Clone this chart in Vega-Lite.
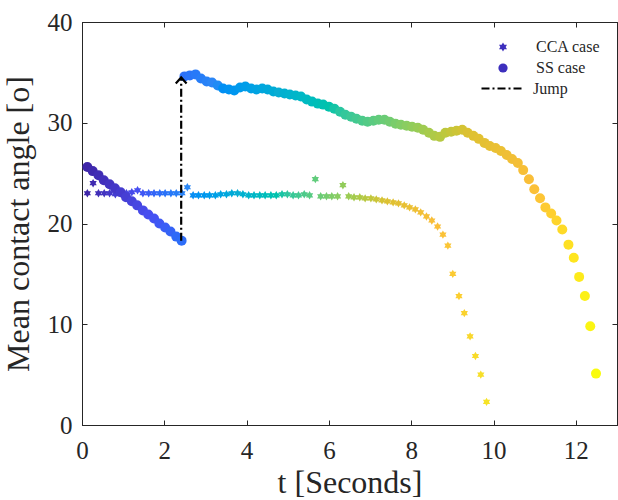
{
  "$schema": "https://vega.github.io/schema/vega-lite/v6.json",
  "width": 535,
  "height": 403,
  "autosize": {"type": "none"},
  "padding": {"left": 82, "top": 22, "right": 1, "bottom": 75},
  "background": "white",
  "config": {
    "view": {"stroke": "#262626", "strokeWidth": 1},
    "legend": {"symbolBaseFillColor": "#3d2fbd", "symbolBaseStrokeColor": "#3d2fbd"},
    "axis": {
      "grid": false,
      "domainColor": "#262626",
      "tickColor": "#262626",
      "labelColor": "#262626",
      "titleColor": "#262626",
      "labelFont": "Liberation Serif",
      "labelFontSize": 25,
      "titleFont": "Liberation Serif",
      "titleFontSize": 32,
      "titleFontWeight": "normal",
      "labelFlush": false,
      "tickSize": -5
    }
  },
  "datasets": {
    "cca": [
      {"t": 0.13, "angle": 23.0}, {"t": 0.27, "angle": 24.0}, {"t": 0.40, "angle": 23.0}, {"t": 0.54, "angle": 23.0},
      {"t": 0.67, "angle": 23.0}, {"t": 0.81, "angle": 22.9}, {"t": 0.94, "angle": 23.0}, {"t": 1.08, "angle": 23.0},
      {"t": 1.21, "angle": 23.1}, {"t": 1.35, "angle": 23.3}, {"t": 1.48, "angle": 23.0}, {"t": 1.62, "angle": 23.0},
      {"t": 1.75, "angle": 23.0}, {"t": 1.89, "angle": 23.0}, {"t": 2.02, "angle": 23.0}, {"t": 2.16, "angle": 23.0},
      {"t": 2.29, "angle": 23.0}, {"t": 2.43, "angle": 23.0}, {"t": 2.56, "angle": 23.6}, {"t": 2.70, "angle": 22.8},
      {"t": 2.83, "angle": 22.8}, {"t": 2.97, "angle": 22.8}, {"t": 3.10, "angle": 22.8}, {"t": 3.24, "angle": 22.8},
      {"t": 3.37, "angle": 22.9}, {"t": 3.51, "angle": 22.9}, {"t": 3.64, "angle": 23.0}, {"t": 3.78, "angle": 23.0},
      {"t": 3.91, "angle": 22.9}, {"t": 4.05, "angle": 22.8}, {"t": 4.18, "angle": 22.8}, {"t": 4.32, "angle": 22.8},
      {"t": 4.45, "angle": 22.8}, {"t": 4.59, "angle": 22.8}, {"t": 4.72, "angle": 22.8}, {"t": 4.86, "angle": 22.9},
      {"t": 4.99, "angle": 22.9}, {"t": 5.13, "angle": 22.8}, {"t": 5.26, "angle": 22.8}, {"t": 5.40, "angle": 22.9},
      {"t": 5.53, "angle": 22.8}, {"t": 5.67, "angle": 24.4}, {"t": 5.80, "angle": 22.7}, {"t": 5.94, "angle": 22.7},
      {"t": 6.07, "angle": 22.7}, {"t": 6.21, "angle": 22.7}, {"t": 6.34, "angle": 23.8}, {"t": 6.48, "angle": 22.7},
      {"t": 6.61, "angle": 22.6}, {"t": 6.75, "angle": 22.6}, {"t": 6.88, "angle": 22.5}, {"t": 7.02, "angle": 22.5},
      {"t": 7.15, "angle": 22.4}, {"t": 7.29, "angle": 22.3}, {"t": 7.42, "angle": 22.2}, {"t": 7.56, "angle": 22.1},
      {"t": 7.69, "angle": 22.0}, {"t": 7.83, "angle": 21.8}, {"t": 7.96, "angle": 21.6}, {"t": 8.10, "angle": 21.4},
      {"t": 8.23, "angle": 21.1}, {"t": 8.37, "angle": 20.7}, {"t": 8.50, "angle": 20.3}, {"t": 8.64, "angle": 19.7},
      {"t": 8.77, "angle": 18.9}, {"t": 8.89, "angle": 17.8}, {"t": 9.01, "angle": 15.0}, {"t": 9.16, "angle": 12.8},
      {"t": 9.29, "angle": 11.1}, {"t": 9.43, "angle": 8.8}, {"t": 9.56, "angle": 6.85}, {"t": 9.69, "angle": 5.0},
      {"t": 9.83, "angle": 2.3}
    ],
    "ss": [
      {"t": 0.13, "angle": 25.6}, {"t": 0.26, "angle": 25.2}, {"t": 0.40, "angle": 24.8}, {"t": 0.53, "angle": 24.3},
      {"t": 0.67, "angle": 23.9}, {"t": 0.80, "angle": 23.5}, {"t": 0.94, "angle": 23.1}, {"t": 1.07, "angle": 22.6},
      {"t": 1.21, "angle": 22.2}, {"t": 1.34, "angle": 21.8}, {"t": 1.48, "angle": 21.3}, {"t": 1.61, "angle": 20.9},
      {"t": 1.75, "angle": 20.5}, {"t": 1.88, "angle": 20.0}, {"t": 2.02, "angle": 19.6}, {"t": 2.15, "angle": 19.2},
      {"t": 2.29, "angle": 18.7}, {"t": 2.42, "angle": 18.3},
      {"t": 2.49, "angle": 34.6}, {"t": 2.62, "angle": 34.7}, {"t": 2.76, "angle": 34.8}, {"t": 2.89, "angle": 34.4},
      {"t": 3.03, "angle": 34.1}, {"t": 3.16, "angle": 34.0}, {"t": 3.30, "angle": 33.7}, {"t": 3.43, "angle": 33.4},
      {"t": 3.57, "angle": 33.3}, {"t": 3.70, "angle": 33.2}, {"t": 3.84, "angle": 33.5}, {"t": 3.97, "angle": 33.6},
      {"t": 4.11, "angle": 33.4}, {"t": 4.24, "angle": 33.3}, {"t": 4.38, "angle": 33.4}, {"t": 4.51, "angle": 33.3},
      {"t": 4.65, "angle": 33.1}, {"t": 4.78, "angle": 33.0}, {"t": 4.92, "angle": 32.9}, {"t": 5.05, "angle": 32.8},
      {"t": 5.19, "angle": 32.7}, {"t": 5.32, "angle": 32.6}, {"t": 5.46, "angle": 32.3}, {"t": 5.59, "angle": 32.1},
      {"t": 5.73, "angle": 31.9}, {"t": 5.86, "angle": 31.8}, {"t": 6.00, "angle": 31.6}, {"t": 6.13, "angle": 31.4},
      {"t": 6.27, "angle": 31.1}, {"t": 6.40, "angle": 30.8}, {"t": 6.54, "angle": 30.6}, {"t": 6.67, "angle": 30.4},
      {"t": 6.81, "angle": 30.2}, {"t": 6.94, "angle": 30.1}, {"t": 7.08, "angle": 30.2}, {"t": 7.21, "angle": 30.3},
      {"t": 7.35, "angle": 30.3}, {"t": 7.48, "angle": 30.1}, {"t": 7.62, "angle": 29.9}, {"t": 7.75, "angle": 29.8},
      {"t": 7.89, "angle": 29.7}, {"t": 8.02, "angle": 29.6}, {"t": 8.16, "angle": 29.5}, {"t": 8.29, "angle": 29.3},
      {"t": 8.43, "angle": 29.0}, {"t": 8.56, "angle": 28.7}, {"t": 8.70, "angle": 28.6}, {"t": 8.83, "angle": 29.0},
      {"t": 8.97, "angle": 29.1}, {"t": 9.10, "angle": 29.2}, {"t": 9.24, "angle": 29.3}, {"t": 9.37, "angle": 29.0},
      {"t": 9.51, "angle": 28.7}, {"t": 9.64, "angle": 28.4}, {"t": 9.78, "angle": 28.0}, {"t": 9.91, "angle": 27.7},
      {"t": 10.05, "angle": 27.5}, {"t": 10.18, "angle": 27.2}, {"t": 10.32, "angle": 26.8}, {"t": 10.45, "angle": 26.4},
      {"t": 10.59, "angle": 26.0}, {"t": 10.72, "angle": 25.3}, {"t": 10.86, "angle": 24.4}, {"t": 10.99, "angle": 23.4},
      {"t": 11.13, "angle": 22.5}, {"t": 11.26, "angle": 21.6}, {"t": 11.40, "angle": 21.0}, {"t": 11.53, "angle": 20.3},
      {"t": 11.67, "angle": 19.4}, {"t": 11.82, "angle": 17.9}, {"t": 11.95, "angle": 16.6}, {"t": 12.08, "angle": 14.7},
      {"t": 12.22, "angle": 12.8}, {"t": 12.35, "angle": 9.8}, {"t": 12.49, "angle": 5.1}
    ],
    "jump": [
      {"t": 2.41, "from": 18.3, "to": 34.5}
    ]
  },
  "layer": [
    {
      "data": {"name": "cca"},
      "mark": {"type": "point", "filled": true, "opacity": 1, "size": 70, "strokeWidth": 0},
      "encoding": {
        "x": {
          "field": "t", "type": "quantitative",
          "scale": {"domain": [0, 13], "nice": false, "zero": false},
          "axis": {"orient": "bottom", "values": [0, 2, 4, 6, 8, 10, 12], "title": "t [Seconds]", "labelPadding": 18, "titlePadding": 4}
        },
        "y": {
          "field": "angle", "type": "quantitative",
          "scale": {"domain": [0, 40], "nice": false},
          "axis": {"orient": "left", "values": [0, 10, 20, 30, 40], "title": "Mean contact angle [o]", "labelPadding": 15, "titlePadding": 12}
        },
        "color": {
          "field": "t", "type": "quantitative", "legend": null,
          "scale": {"domain": [0.13, 9.83], "range": ["#3e26a8", "#474ff2", "#2c88f6", "#0dadd3", "#2ec69e", "#88cd62", "#ddc132", "#fbbe39", "#f6e327"]}
        },
        "shape": {
          "datum": "CCA case", "type": "nominal",
          "scale": {
            "domain": ["CCA case", "SS case"],
            "range": ["M0,-1L0.866,0.5L-0.866,0.5Z M0,1L-0.866,-0.5L0.866,-0.5Z", "circle"]
          },
          "legend": {
            "title": null,
            "orient": "none",
            "legendX": 413,
            "legendY": 17,
            "padding": 0,
            "labelFont": "Liberation Serif",
            "labelFontSize": 16,
            "labelColor": "#262626",
            "labelOffset": 25,
            "rowPadding": 5,
            "symbolSize": 85,
            "symbolOpacity": 1,
            "symbolStrokeWidth": 0
          }
        }
      }
    },
    {
      "data": {"name": "ss"},
      "mark": {"type": "point", "filled": true, "opacity": 1, "size": 100, "strokeWidth": 0},
      "encoding": {
        "x": {
          "field": "t", "type": "quantitative",
          "axis": {"orient": "top", "values": [0, 2, 4, 6, 8, 10, 12], "labels": false, "title": null}
        },
        "y": {
          "field": "angle", "type": "quantitative",
          "axis": {"orient": "right", "values": [0, 10, 20, 30, 40], "labels": false, "title": null}
        },
        "color": {
          "field": "t", "type": "quantitative", "legend": null,
          "scale": {"domain": [0.13, 12.49], "range": ["#3e26a8", "#474ff2", "#2c88f6", "#0dadd3", "#2ec69e", "#88cd62", "#ddc132", "#fbbe39", "#f9fb0e"]}
        },
        "shape": {"datum": "SS case", "type": "nominal"}
      }
    },
    {
      "data": {"name": "jump"},
      "mark": {"type": "rule", "color": "black", "strokeWidth": 2.2},
      "encoding": {
        "x": {"field": "t", "type": "quantitative", "axis": null},
        "y": {"field": "from", "type": "quantitative", "axis": null},
        "y2": {"field": "to"},
        "strokeDash": {
          "datum": "Jump", "type": "nominal",
          "scale": {"domain": ["Jump"], "range": [[8, 3, 2, 3]]},
          "legend": {
            "title": null,
            "orient": "none",
            "legendX": 398,
            "legendY": 45,
            "padding": 0,
            "labelFont": "Liberation Serif",
            "labelFontSize": 16,
            "labelColor": "#262626",
            "labelOffset": 10,
            "symbolType": "stroke",
            "symbolSize": 1600,
            "symbolStrokeColor": "black",
            "symbolStrokeWidth": 2.2,
            "symbolOpacity": 1
          }
        }
      }
    },
    {
      "data": {"name": "jump"},
      "mark": {"type": "point", "shape": "M-0.9,1L0,0L0.9,1", "filled": false, "stroke": "black", "strokeWidth": 2.2, "opacity": 1, "size": 144},
      "encoding": {
        "x": {"field": "t", "type": "quantitative", "axis": null},
        "y": {"field": "to", "type": "quantitative", "axis": null}
      }
    }
  ],
  "resolve": {
    "scale": {"color": "independent"},
    "axis": {"x": "independent", "y": "independent"}
  }
}
